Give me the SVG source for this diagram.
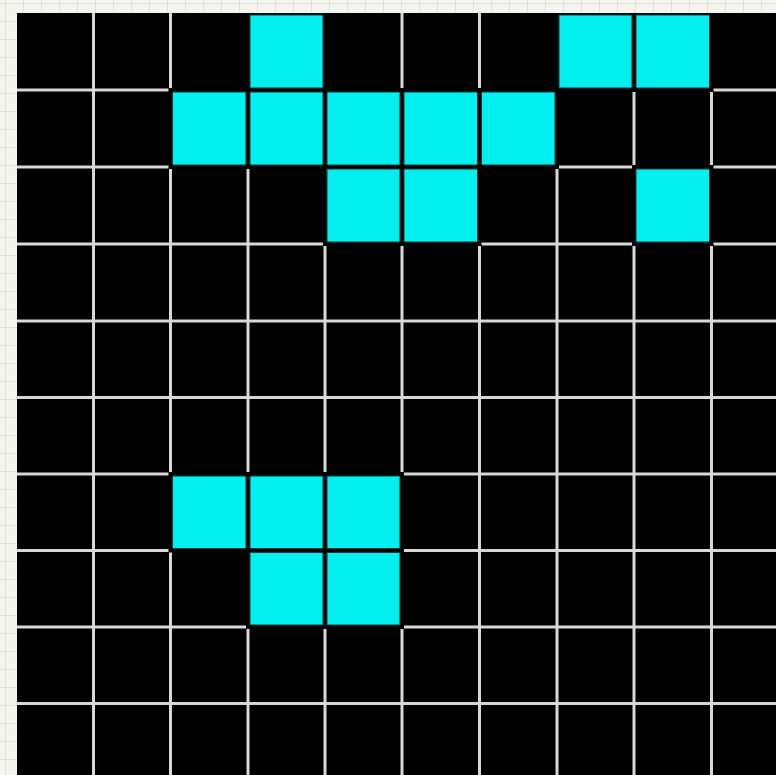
<svg xmlns="http://www.w3.org/2000/svg" width="776" height="775" viewBox="0 0 776 775">
<defs>
<pattern id="paper" width="18" height="18" patternUnits="userSpaceOnUse" x="5" y="3">
<rect width="18" height="18" fill="#f5f5ef"/>
<path d="M0 0.5H18M0.5 0V18" stroke="#e2e2dc" stroke-width="1"/>
</pattern>
<style>
.g{stroke:#d8d8d8;stroke-width:3;fill:none}
.m{fill:#000}
.c{fill:#04f0f0;stroke:#0b3a3a;stroke-width:1}
</style>
</defs>
<rect width="776" height="775" fill="url(#paper)"/>
<rect x="17" y="13" width="759" height="762" fill="#000"/>
<g id="grid" class="g">
<path d="M93.5 13V775M170.5 13V775M248 13V775M325 13V775M402 13V775M479.5 13V775M557 13V775M634 13V775M711.5 13V775"/>
<path d="M17 90H776M17 167H776M17 244H776M17 321H776M17 397.5H776M17 474H776M17 550.5H776M17 627H776M17 703.5H776"/>
</g>
<g id="cells">
<!-- row 0 -->
<rect class="m" x="246" y="13" width="81" height="79"/>
<rect class="m" x="555" y="13" width="158.5" height="79"/>
<!-- row 1 -->
<rect class="m" x="168.5" y="88" width="390.5" height="81"/>
<!-- row 2 -->
<rect class="m" x="323" y="165" width="158.5" height="81"/>
<rect class="m" x="632" y="165" width="81.5" height="81"/>
<!-- row 6 -->
<rect class="m" x="168.5" y="472" width="235.5" height="80.5"/>
<!-- row 7 -->
<rect class="m" x="246" y="548.5" width="158" height="80.5"/>

<rect class="c" x="250" y="15" width="73" height="73"/>
<rect class="c" x="559" y="15" width="73" height="73"/>
<rect class="c" x="636" y="15" width="73.5" height="73"/>

<rect class="c" x="172.5" y="92" width="73.5" height="73"/>
<rect class="c" x="250" y="92" width="73" height="73"/>
<rect class="c" x="327" y="92" width="73" height="73"/>
<rect class="c" x="404" y="92" width="73.5" height="73"/>
<rect class="c" x="481.5" y="92" width="73.5" height="73"/>

<rect class="c" x="327" y="169" width="73" height="73"/>
<rect class="c" x="404" y="169" width="73.5" height="73"/>
<rect class="c" x="636" y="169" width="73.5" height="73"/>

<rect class="c" x="172.5" y="476" width="73.5" height="72.5"/>
<rect class="c" x="250" y="476" width="73" height="72.5"/>
<rect class="c" x="327" y="476" width="73" height="72.5"/>

<rect class="c" x="250" y="552.5" width="73" height="72.5"/>
<rect class="c" x="327" y="552.5" width="73" height="72.5"/>
</g>
</svg>
